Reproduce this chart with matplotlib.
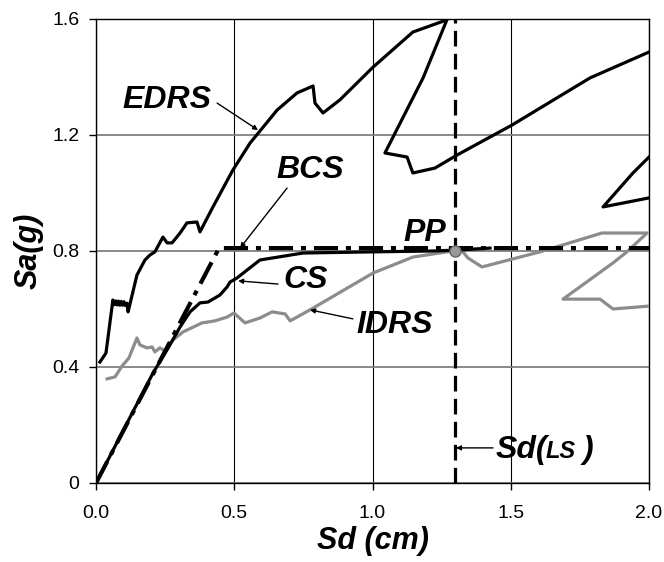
import numpy as np
import matplotlib
matplotlib.use('Agg')
import matplotlib.pyplot as plt

plt.rcParams['font.family'] = ['Liberation Sans', 'DejaVu Sans']

# capacity spectrum method: demand spectra, capacity curve, bilinear fit
edrs_sd = [0.014, 0.036, 0.061, 0.066, 0.071, 0.076, 0.081, 0.086, 0.091, 0.096,
           0.101, 0.106, 0.112, 0.116, 0.148, 0.177, 0.195, 0.213, 0.242, 0.257,
           0.275, 0.304, 0.329, 0.365, 0.376, 0.423, 0.495, 0.557, 0.655, 0.727,
           0.785, 0.792, 0.821, 0.882, 1.002, 1.146, 1.269, 1.183, 1.045, 1.125,
           1.146, 1.226, 1.306, 1.504, 1.787, 2.000, 2.080, 2.080, 2.000, 1.942,
           1.834, 2.000, 2.080]
edrs_sa = [0.417, 0.448, 0.631, 0.615, 0.628, 0.614, 0.627, 0.613, 0.626, 0.613,
           0.625, 0.612, 0.620, 0.590, 0.717, 0.769, 0.786, 0.797, 0.848, 0.828,
           0.828, 0.862, 0.897, 0.900, 0.866, 0.952, 1.079, 1.172, 1.286, 1.345,
           1.369, 1.310, 1.276, 1.321, 1.434, 1.555, 1.597, 1.397, 1.138, 1.124,
           1.069, 1.086, 1.131, 1.234, 1.397, 1.486, 1.520, 1.200, 1.124, 1.069,
           0.952, 0.983, 0.990]

idrs_sd = [0.040, 0.069, 0.094, 0.119, 0.148, 0.159, 0.184, 0.203, 0.213, 0.231,
           0.250, 0.278, 0.315, 0.383, 0.430, 0.474, 0.499, 0.539, 0.593, 0.637,
           0.684, 0.702, 0.774, 1.002, 1.146, 1.269, 1.302, 1.327, 1.345, 1.396,
           1.606, 1.830, 1.993, 1.920, 1.870, 1.689, 1.823, 1.870, 2.000]
idrs_sa = [0.359, 0.366, 0.403, 0.431, 0.500, 0.476, 0.466, 0.469, 0.452, 0.466,
           0.455, 0.493, 0.521, 0.552, 0.559, 0.572, 0.586, 0.552, 0.569, 0.590,
           0.583, 0.559, 0.597, 0.724, 0.779, 0.797, 0.800, 0.797, 0.776, 0.745,
           0.797, 0.862, 0.862, 0.797, 0.759, 0.634, 0.634, 0.600, 0.610]

cs_sd = [0.0, 0.206, 0.257, 0.304, 0.340, 0.376, 0.405, 0.448, 0.474, 0.485,
         0.510, 0.546, 0.593, 0.749, 1.002, 1.219, 1.302, 1.425]
cs_sa = [0.0, 0.379, 0.459, 0.538, 0.590, 0.621, 0.624, 0.648, 0.676, 0.693,
         0.707, 0.734, 0.769, 0.793, 0.797, 0.800, 0.803, 0.810]

bcs_sd = [0.0, 0.445, 2.0]
bcs_sa = [0.0, 0.81, 0.81]

pp_sd = 1.30
pp_sa = 0.80

x_ticks = [0.0, 0.5, 1.0, 1.5, 2.0]
x_labels = ['0.0', '0.5', '1.0', '1.5', '2.0']
y_ticks = [0.0, 0.4, 0.8, 1.2, 1.6]
y_labels = ['0', '0.4', '0.8', '1.2', '1.6']

fig = plt.figure(figsize=(6.64, 5.62), dpi=100)
ax = fig.add_axes([0.1446, 0.1406, 0.8328, 0.8256])

ax.set_xlim(0, 2.0)
ax.set_ylim(0, 1.6)
ax.set_xticks(x_ticks)
ax.set_xticklabels(x_labels)
ax.set_yticks(y_ticks)
ax.set_yticklabels(y_labels)
ax.tick_params(axis='x', direction='out', length=5, width=1, pad=11, labelsize=14)
ax.tick_params(axis='y', direction='out', length=5, width=1, pad=7, labelsize=14)
ax.xaxis.grid(True, color='black', linewidth=0.8, zorder=0)
ax.yaxis.grid(True, color='#808080', linewidth=1.3, zorder=0)
ax.set_axisbelow(True)
for s in ax.spines.values():
    s.set_color('black')
    s.set_linewidth(1)

ax.plot(idrs_sd, idrs_sa, color='#8c8c8c', lw=2.3, zorder=3)
ax.plot(edrs_sd, edrs_sa, color='black', lw=2.3, zorder=3)
ax.plot(cs_sd, cs_sa, color='black', lw=2.3, zorder=4)
ax.plot(bcs_sd, bcs_sa, color='black', lw=3.0, zorder=4,
        linestyle=(0, (5.8, 1.9, 1.2, 1.9)))
ax.axvline(pp_sd, color='black', lw=2.3, linestyle=(0, (4.9, 2.3)), zorder=4)
ax.plot([pp_sd], [pp_sa], 'o', ms=8, mfc='#999999', mec='#666666', mew=1, zorder=6)

fnt = dict(fontsize=23, fontweight='bold', fontstyle='italic', ha='center', va='center')
arr = dict(arrowstyle='-|>', color='black', lw=1, mutation_scale=7, shrinkA=0, shrinkB=0)

ax.text(0.257, 1.321, 'EDRS', **fnt)
ax.annotate('', xy=(0.586, 1.217), xytext=(0.438, 1.310), arrowprops=arr)
ax.text(0.774, 1.079, 'BCS', **fnt)
ax.annotate('', xy=(0.521, 0.810), xytext=(0.691, 1.017), arrowprops=arr)
ax.text(1.190, 0.862, 'PP', **fnt)
ax.text(0.759, 0.700, 'CS', **fnt)
ax.annotate('', xy=(0.514, 0.697), xytext=(0.658, 0.686), arrowprops=arr)
ax.text(1.081, 0.545, 'IDRS', **fnt)
ax.annotate('', xy=(0.774, 0.597), xytext=(0.929, 0.566), arrowprops=arr)

ax.text(1.537, 0.114, 'Sd(', **fnt)
ax.text(1.679, 0.110, 'LS', fontsize=17, fontweight='bold', fontstyle='italic',
        ha='center', va='center')
ax.text(1.780, 0.114, ')', **fnt)
ax.annotate('', xy=(1.302, 0.121), xytext=(1.436, 0.121), arrowprops=arr)

ax.set_xlabel('Sd (cm)', fontsize=22, fontweight='bold', fontstyle='italic', labelpad=3)
ax.set_ylabel('Sa(g)', fontsize=22, fontweight='bold', fontstyle='italic', labelpad=6)

fig.savefig('out.png', dpi=100)
